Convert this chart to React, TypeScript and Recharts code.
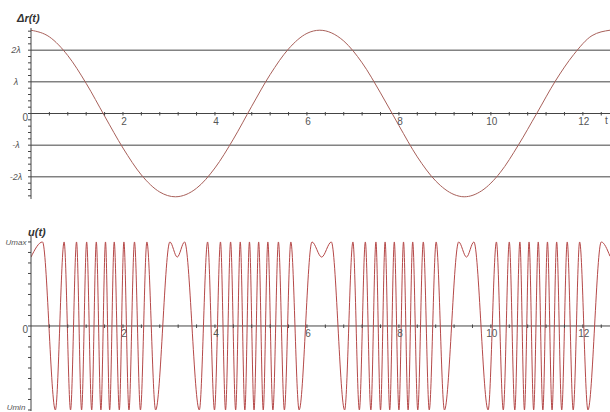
import { LineChart, Line, XAxis, YAxis, ReferenceLine } from 'recharts'

// top panel: Δr(t), in units of λ
const DR_T = [0, 0.4, 0.8, 1.2, 1.6, 2.0, 2.4, 2.8, 3.14, 3.6, 4.0, 4.4, 4.8, 5.2, 5.6, 6.0, 6.28, 6.8, 7.2, 7.6, 8.0, 8.4, 8.8, 9.2, 9.42, 9.8, 10.2, 10.6, 11.0, 11.4, 11.8, 12.2, 12.59]
const DR_V = [2.63, 2.42, 1.83, 0.95, -0.08, -1.09, -1.94, -2.48, -2.63, -2.36, -1.72, -0.81, 0.23, 1.23, 2.04, 2.53, 2.63, 2.29, 1.60, 0.65, -0.38, -1.37, -2.13, -2.56, -2.63, -2.44, -1.87, -0.99, 0.01, 1.02, 1.86, 2.46, 2.63]

// bottom panel: u(t), between Umin (-1) and Umax (1)
const U_T = [
  0, 0.25, 0.53, 0.72, 0.86, 0.99, 1.10, 1.21, 1.32, 1.42, 1.52, 1.62, 1.71, 1.81, 1.92, 2.02, 2.13, 2.25, 2.38, 2.52, 2.71, 3.02,
  3.18,
  3.34, 3.66, 3.84, 3.99, 4.12, 4.23, 4.34, 4.45, 4.55, 4.65, 4.75, 4.85, 4.95, 5.05, 5.15, 5.26, 5.38, 5.51, 5.65, 5.83, 6.11,
  6.32,
  6.53, 6.82, 7.00, 7.14, 7.27, 7.39, 7.50, 7.60, 7.70, 7.80, 7.90, 8.00, 8.10, 8.20, 8.30, 8.41, 8.53, 8.66, 8.81, 8.99, 9.30,
  9.47,
  9.63, 9.94, 10.12, 10.27, 10.40, 10.52, 10.63, 10.73, 10.83, 10.93, 11.03, 11.13, 11.23, 11.33, 11.43, 11.54, 11.66, 11.79, 11.93, 12.11, 12.40,
  12.59,
]
const U_V = [
  0.82, 1, -1, 1, -1, 1, -1, 1, -1, 1, -1, 1, -1, 1, -1, 1, -1, 1, -1, 1, -1, 1,
  0.82,
  1, -1, 1, -1, 1, -1, 1, -1, 1, -1, 1, -1, 1, -1, 1, -1, 1, -1, 1, -1, 1,
  0.82,
  1, -1, 1, -1, 1, -1, 1, -1, 1, -1, 1, -1, 1, -1, 1, -1, 1, -1, 1, -1, 1,
  0.82,
  1, -1, 1, -1, 1, -1, 1, -1, 1, -1, 1, -1, 1, -1, 1, -1, 1, -1, 1, -1, 1,
  0.83,
]

const T_TICKS = [0.4, 0.8, 1.2, 1.6, 2, 2.4, 2.8, 3.2, 3.6, 4, 4.4, 4.8, 5.2, 5.6, 6, 6.4, 6.8, 7.2, 7.6, 8, 8.4, 8.8, 9.2, 9.6, 10, 10.4, 10.8, 11.2, 11.6, 12, 12.4]
const T_LABELS = [2, 4, 6, 8, 10, 12]

const DR_TICKS = [-2.6, -2.4, -2.2, -2, -1.8, -1.6, -1.4, -1.2, -1, -0.8, -0.6, -0.4, -0.2, 0, 0.2, 0.4, 0.6, 0.8, 1, 1.2, 1.4, 1.6, 1.8, 2, 2.2, 2.4, 2.6]
const DR_LABELS: Record<string, string> = { '2': '2λ', '1': 'λ', '-1': '-λ', '-2': '-2λ' }
const DR_GRID = [-2, -1, 1, 2]

const U_TICKS = [-1, -0.875, -0.75, -0.625, -0.5, -0.375, -0.25, -0.125, 0, 0.125, 0.25, 0.375, 0.5, 0.625, 0.75, 0.875, 1]
const U_LABELS: Record<string, string> = { '1': 'Umax', '-1': 'Umin' }

const W = 610
const AX = 31
const INK = '#444'
const FONT = '"Liberation Sans", Arial, sans-serif'

const topData = DR_T.map((t, i) => ({ t, v: DR_V[i] }))
const botData = U_T.map((t, i) => ({ t, v: U_V[i] }))

// x ticks sit on the zero line, not at the bottom of the plot
function makeXTick(zeroY: number) {
  // eslint-disable-next-line @typescript-eslint/no-explicit-any
  return (props: any) => {
    const { x, payload } = props
    const v = payload.value
    const major = T_LABELS.includes(v)
    return (
      <g>
        <line x1={x} x2={x} y1={zeroY - 1.5} y2={zeroY + 2} stroke={INK} strokeWidth={1} />
        {major && (
          <text x={x + 1} y={zeroY + 11} textAnchor="middle" fontSize={10} fill="#555" fontFamily={FONT}>
            {v}
          </text>
        )}
      </g>
    )
  }
}

function makeYTick(labels: Record<string, string>, zeroY: number, fontSize: number, lift: number) {
  // eslint-disable-next-line @typescript-eslint/no-explicit-any
  return (props: any) => {
    const { y, payload } = props
    const v = payload.value
    const lab = labels[String(v)]
    return (
      <g>
        <line x1={AX - 3} x2={AX} y1={y} y2={y} stroke={INK} strokeWidth={1} />
        {lab && (
          <text x={16} y={v < -0.9 ? y - lift : y + 3} textAnchor="middle" fontSize={fontSize} fontStyle="italic" fill="#555" fontFamily={FONT}>
            {lab}
          </text>
        )}
        {v === 0 && (
          <text x={28} y={zeroY + 7} textAnchor="end" fontSize={10} fill="#555" fontFamily={FONT}>
            0
          </text>
        )}
      </g>
    )
  }
}

const titleStyle: React.CSSProperties = {
  position: 'absolute',
  fontFamily: FONT,
  fontWeight: 'bold',
  fontStyle: 'italic',
  fontSize: 11,
  color: '#333',
  lineHeight: '12px',
  whiteSpace: 'nowrap',
}

export default function App() {
  // top plot: y 28..199, domain ±2.7λ
  const topZero = 28 + 171 / 2
  // bottom plot: y 16..191 inside its svg, domain -1.012..1.071
  const botZero = 16 + (175 * 1.071) / 2.083

  return (
    <div style={{ position: 'absolute', left: 0, top: 0, width: W, height: 412, background: '#fff', overflow: 'hidden' }}>
      <div style={{ position: 'absolute', left: 0, top: 0 }}>
        <LineChart width={W} height={210} data={topData} margin={{ top: 28, right: 0, bottom: 10, left: 0 }}>
          <XAxis
            type="number"
            dataKey="t"
            domain={[0, 12.59]}
            allowDataOverflow
            ticks={T_TICKS}
            interval={0}
            height={1}
            axisLine={false}
            tickLine={false}
            tick={makeXTick(topZero)}
          />
          <YAxis
            type="number"
            domain={[-2.7, 2.7]}
            allowDataOverflow
            ticks={DR_TICKS}
            interval={0}
            width={AX}
            axisLine={{ stroke: INK }}
            tickLine={false}
            tick={makeYTick(DR_LABELS, topZero, 9, -3)}
          />
          {DR_GRID.map(g => (
            <ReferenceLine key={g} y={g} stroke={INK} strokeWidth={1} />
          ))}
          <ReferenceLine y={0} stroke={INK} strokeWidth={1} />
          <Line type="monotone" dataKey="v" stroke="#a8605a" strokeWidth={1} dot={false} isAnimationActive={false} />
        </LineChart>
      </div>
      <div style={{ position: 'absolute', left: 0, top: 220 }}>
        <LineChart width={W} height={192} data={botData} margin={{ top: 16, right: 0, bottom: 0, left: 0 }}>
          <XAxis
            type="number"
            dataKey="t"
            domain={[0, 12.59]}
            allowDataOverflow
            ticks={T_TICKS}
            interval={0}
            height={1}
            axisLine={false}
            tickLine={false}
            tick={makeXTick(botZero)}
          />
          <YAxis
            type="number"
            domain={[-1.012, 1.071]}
            allowDataOverflow
            ticks={U_TICKS}
            interval={0}
            width={AX}
            axisLine={{ stroke: INK }}
            tickLine={false}
            tick={makeYTick(U_LABELS, botZero, 8, 0)}
          />
          <ReferenceLine y={0} stroke={INK} strokeWidth={1} />
          <Line type="monotone" dataKey="v" stroke="#b54848" strokeWidth={1} dot={false} isAnimationActive={false} />
        </LineChart>
      </div>
      <div style={{ ...titleStyle, left: 17, top: 12 }}>Δr(t)</div>
      <div style={{ ...titleStyle, left: 28, top: 226 }}>u(t)</div>
      <div style={{ position: 'absolute', left: 605, top: 115, fontFamily: FONT, fontSize: 10, color: '#555' }}>t</div>
    </div>
  )
}
